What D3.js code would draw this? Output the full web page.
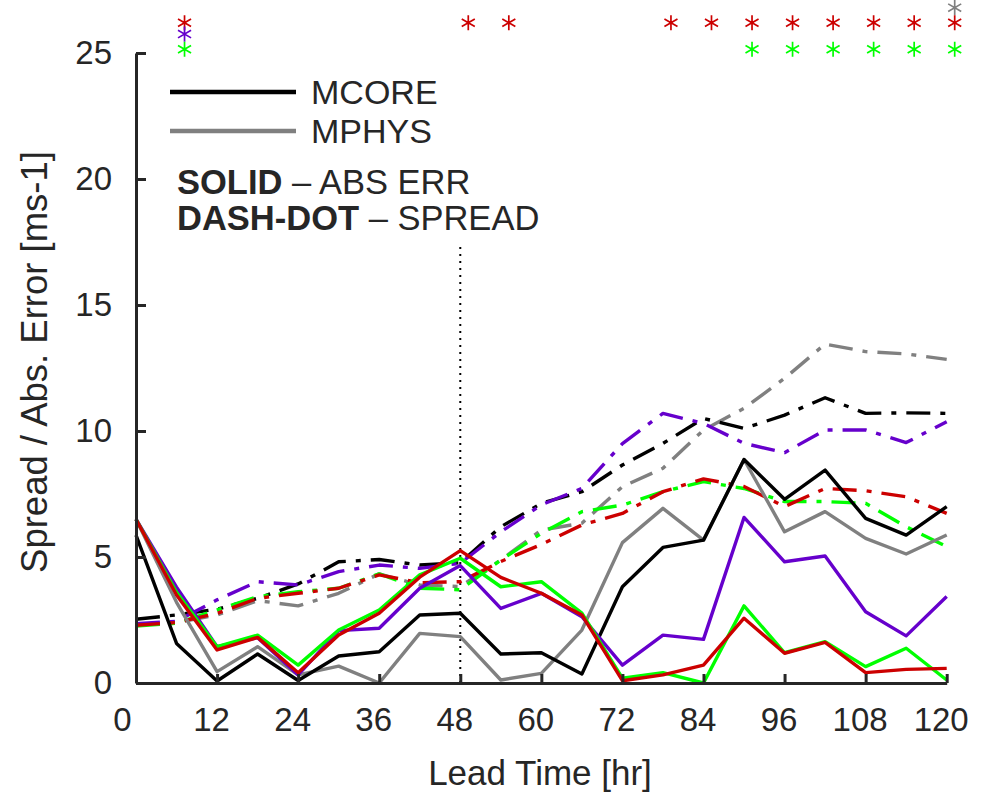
<!DOCTYPE html>
<html>
<head>
<meta charset="utf-8">
<script src="https://cdn.jsdelivr.net/npm/d3@7"></script>
<style>
  body { margin: 0; background: #fff; }
  svg text { font-family: "Liberation Sans", Arial, Helvetica, sans-serif; fill: #262626; }
</style>
</head>
<body>
<svg id="chart" width="983" height="793"></svg>
<script>
// lead times (hr)
const hours = [0, 6, 12, 18, 24, 30, 36, 42, 48, 54, 60, 66, 72, 78, 84, 90, 96, 102, 108, 114, 120];
const xTicks = [0, 12, 24, 36, 48, 60, 72, 84, 96, 108, 120];
const yTicks = [0, 5, 10, 15, 20, 25];

// absolute error (solid)
const errBlack  = [5.87, 1.57, 0.08, 1.15, 0.1, 1.07, 1.24, 2.7, 2.77, 1.15, 1.2, 0.36, 3.82, 5.38, 5.67, 8.87, 7.29, 8.45, 6.53, 5.87, 7.0];
const errGray   = [6.5, 3.2, 0.45, 1.44, 0.32, 0.67, 0.0, 1.97, 1.84, 0.12, 0.38, 2.1, 5.57, 6.93, 5.67, 8.87, 6.0, 6.8, 5.74, 5.12, 5.87];
const errPurple = [6.5, 3.8, 1.44, 1.8, 0.32, 2.08, 2.17, 3.76, 4.66, 2.96, 3.56, 2.63, 0.71, 1.9, 1.73, 6.57, 4.81, 5.04, 2.83, 1.87, 3.43];
const errGreen  = [6.5, 3.6, 1.44, 1.9, 0.71, 2.1, 2.9, 4.29, 4.95, 3.82, 4.02, 2.77, 0.19, 0.41, 0.0, 3.06, 1.2, 1.64, 0.65, 1.38, 0.12];
const errRed    = [6.5, 3.49, 1.31, 1.81, 0.41, 1.9, 2.77, 4.2, 5.25, 4.19, 3.56, 2.7, 0.09, 0.32, 0.71, 2.57, 1.18, 1.61, 0.41, 0.54, 0.58];

// spread (dash-dot)
const sprBlack  = [2.53, 2.7, 2.93, 3.36, 3.93, 4.81, 4.9, 4.68, 4.77, 6.2, 7.13, 7.59, 8.65, 9.51, 10.5, 10.1, 10.63, 11.32, 10.7, 10.72, 10.7];
const sprGray   = [2.3, 2.4, 2.7, 3.27, 3.06, 3.56, 4.33, 3.89, 3.83, 4.88, 6.07, 6.34, 7.79, 8.52, 10.04, 10.9, 12.09, 13.45, 13.15, 13.06, 12.84];
const sprPurple = [2.35, 2.45, 3.3, 4.02, 3.89, 4.42, 4.68, 4.55, 4.75, 6.0, 7.07, 7.72, 9.5, 10.7, 10.3, 9.51, 9.14, 10.04, 10.04, 9.54, 10.37];
const sprGreen  = [2.26, 2.37, 2.9, 3.43, 3.62, 3.76, 4.33, 3.76, 3.7, 4.88, 5.94, 6.8, 7.06, 7.59, 7.99, 7.72, 7.2, 7.2, 7.13, 6.2, 5.41];
const sprRed    = [2.29, 2.4, 2.76, 3.36, 3.56, 3.76, 4.29, 3.98, 4.02, 4.82, 5.5, 6.27, 6.73, 7.59, 8.1, 7.8, 7.0, 7.72, 7.63, 7.39, 6.73];

// significance markers: lead times per row
const sigGray   = [120];
const sigRed    = [6, 48, 54, 78, 84, 90, 96, 102, 108, 114, 120];
const sigPurple = [6];
const sigGreen  = [6, 90, 96, 102, 108, 114, 120];

const COLORS = { black: '#000000', gray: '#808080', purple: '#6600cc', green: '#00ff00', red: '#cc0000' };
const PLOT = { left: 136, right: 946.7, top: 53, bottom: 683 };

const svg = d3.select('#chart');

const x = d3.scaleLinear().domain([0, 120]).range([PLOT.left, PLOT.right]);
const y = d3.scaleLinear().domain([0, 25]).range([PLOT.bottom, PLOT.top]);

const line = d3.line()
  .x((d, i) => x(hours[i]))
  .y((d) => y(d));

const series = [
  { v: sprGray, c: COLORS.gray, dash: true },
  { v: sprBlack, c: COLORS.black, dash: true },
  { v: sprPurple, c: COLORS.purple, dash: true },
  { v: sprGreen, c: COLORS.green, dash: true },
  { v: sprRed, c: COLORS.red, dash: true },
  { v: errGray, c: COLORS.gray },
  { v: errBlack, c: COLORS.black },
  { v: errPurple, c: COLORS.purple },
  { v: errGreen, c: COLORS.green },
  { v: errRed, c: COLORS.red }
];

// dotted divider at 48 h
svg.append('line')
  .attr('x1', x(48)).attr('x2', x(48))
  .attr('y1', y(0)).attr('y2', y(17.4))
  .attr('stroke', '#000')
  .attr('stroke-width', 2)
  .attr('stroke-dasharray', '2,5');

svg.append('g')
  .selectAll('path')
  .data(series)
  .join('path')
  .attr('d', (d) => line(d.v))
  .attr('fill', 'none')
  .attr('stroke', (d) => d.c)
  .attr('stroke-width', 3.4)
  .attr('stroke-linejoin', 'round')
  .attr('stroke-dasharray', (d) => (d.dash ? '24,10,5,10' : null));

// axes
const xAxis = svg.append('g')
  .attr('transform', `translate(0, ${PLOT.bottom})`)
  .call(d3.axisBottom(x).tickValues(xTicks).tickSize(-9).tickSizeOuter(0).tickPadding(25));

const yAxis = svg.append('g')
  .attr('transform', `translate(${PLOT.left}, 0)`)
  .call(d3.axisLeft(y).tickValues(yTicks).tickSize(-10).tickSizeOuter(0).tickPadding(24));

[xAxis, yAxis].forEach((g) => {
  g.select('.domain').attr('stroke', '#262626').attr('stroke-width', 3);
  g.selectAll('.tick line').attr('stroke', '#262626').attr('stroke-width', 3);
  g.selectAll('.tick text').attr('font-size', 33).attr('font-family', null).attr('fill', '#262626');
});
xAxis.selectAll('.tick text').attr('dx', (d) => (d === 0 ? -14 : -6));

// axis titles
svg.append('text')
  .attr('x', 540).attr('y', 785)
  .attr('text-anchor', 'middle')
  .attr('font-size', 35)
  .text('Lead Time [hr]');

svg.append('text')
  .attr('transform', 'translate(47, 362) rotate(-90)')
  .attr('text-anchor', 'middle')
  .attr('font-size', 36.5)
  .text('Spread / Abs. Error [ms-1]');

// significance asterisks
const star = d3.symbol().type(d3.symbolAsterisk).size(160);
const sigRows = [
  { h: sigGray, level: 26.8, c: COLORS.gray },
  { h: sigRed, level: 26.2, c: COLORS.red },
  { h: sigPurple, level: 25.75, c: COLORS.purple },
  { h: sigGreen, level: 25.15, c: COLORS.green }
];
sigRows.forEach((row) => {
  svg.append('g')
    .selectAll('path')
    .data(row.h)
    .join('path')
    .attr('d', star)
    .attr('transform', (d) => `translate(${x(d) + 8}, ${y(row.level)})`)
    .attr('fill', 'none')
    .attr('stroke', row.c)
    .attr('stroke-width', 1.7);
});

// legend
const legend = svg.append('g');
[{ label: 'MCORE', c: COLORS.black, yy: 92 }, { label: 'MPHYS', c: COLORS.gray, yy: 131 }].forEach((it) => {
  legend.append('line')
    .attr('x1', 170).attr('x2', 296)
    .attr('y1', it.yy).attr('y2', it.yy)
    .attr('stroke', it.c).attr('stroke-width', 4.5);
  legend.append('text')
    .attr('x', 311).attr('y', it.yy + 12)
    .attr('font-size', 34)
    .text(it.label);
});

const note1 = legend.append('text').attr('x', 177).attr('y', 194).attr('font-size', 34.5);
note1.append('tspan').attr('font-weight', 'bold').text('SOLID');
note1.append('tspan').text(' \u2013 ABS ERR');

const note2 = legend.append('text').attr('x', 177).attr('y', 230).attr('font-size', 34.5);
note2.append('tspan').attr('font-weight', 'bold').text('DASH-DOT');
note2.append('tspan').text(' \u2013 SPREAD');
</script>
</body>
</html>
